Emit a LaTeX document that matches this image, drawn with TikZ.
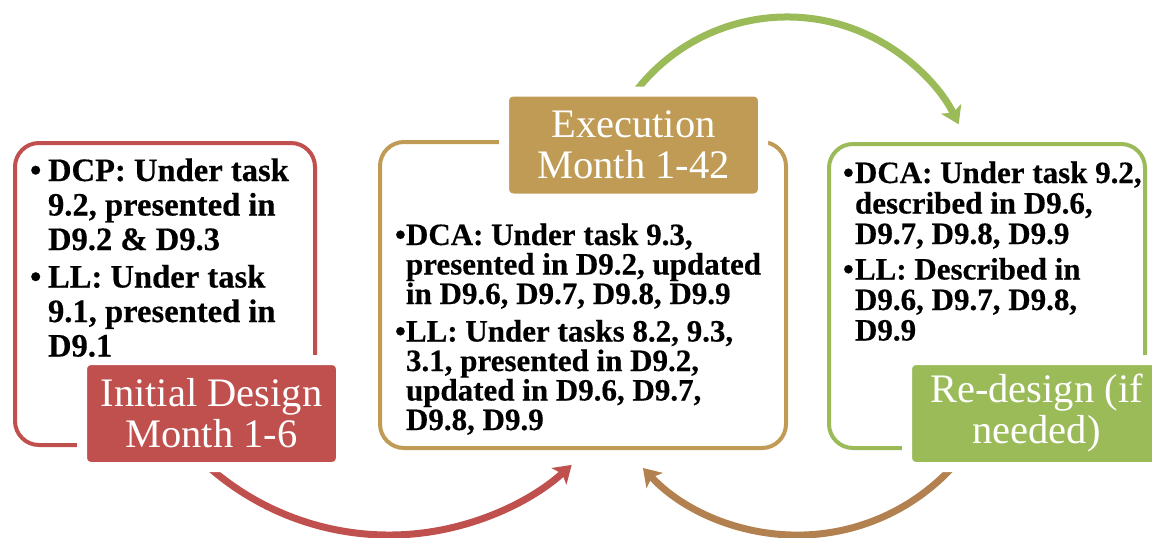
\documentclass[tikz,border=0pt]{standalone}
\usepackage{fontspec}
\setmainfont{Liberation Serif}[BoldFeatures={FakeBold=0.4}]
\usetikzlibrary{arrows.meta}

\definecolor{cRed}{HTML}{C0504D}
\definecolor{cGold}{HTML}{BF9B55}
\definecolor{cGreen}{HTML}{9BBB59}
\definecolor{cBrown}{HTML}{B3804F}

% one line opening a bullet item, and one continuation line; #1 = indent
\newcommand\itemline[2]{\hbox{\makebox[#1][l]{\textbullet}#2}}
\newcommand\moreline[2]{\hbox{\hskip#1\relax#2}}

\begin{document}
\begin{tikzpicture}[x=1pt,y=-1pt,
  framebox/.style={draw=#1, line width=4pt, rounded corners=24pt,
    inner sep=0pt, outer sep=0pt},
  tagbox/.style={fill=#1, draw=white, line width=10pt, rounded corners=9pt,
    text=white, inner sep=0pt, outer sep=0pt, minimum width=259pt,
    minimum height=107pt, align=center, font=\fontsize{40.5}{41}\selectfont},
  flow/.style={draw=#1, line width=7pt,
    -{Stealth[length=17pt, width=22pt, inset=4pt]}},
  textblock/.style={anchor=base west, inner sep=0pt, outer sep=0pt}
]
\useasboundingbox (0,0) rectangle (1152,538);
\clip (0,0) rectangle (1152,538);

% outline frames
\node[framebox=cRed,   minimum width=300pt, minimum height=302pt] (f1) at (165,294) {};
\node[framebox=cGold,  minimum width=406pt, minimum height=306pt] (f2) at (583,295) {};
\node[framebox=cGreen, minimum width=316pt, minimum height=304pt] (f3) at (987,296) {};

% circular arrows between the stages (start points lie behind the tags)
\coordinate (a1) at (179.9,437.5);
\coordinate (a2) at (621.6,112.5);
\coordinate (a3) at (980.0,429.6);
\draw[flow=cRed]   (a1) arc[start angle=140, end angle=48,  radius=273];
\draw[flow=cGreen] (a2) arc[start angle=-150, end angle=-26, radius=191];
\draw[flow=cBrown] (a3) arc[start angle=30,  end angle=137, radius=211];

% stage tags
\node[tagbox=cRed]   (l1) at (211.5,413.5) {Initial Design\\Month 1-6};
\node[tagbox=cGold]  (l2) at (633.5,145)   {Execution\\Month 1-42};
\node[tagbox=cGreen] (l3) at (1036.5,413.5) {Re-design (if\\needed)};

% stage descriptions
\node[textblock, font=\bfseries\fontsize{32.6}{34.5}\selectfont] (t1) at (30,181) {\vtop{%
  \itemline{18pt}{DCP: Under task}
  \moreline{18pt}{9.2, presented in}
  \moreline{18pt}{D9.2 \& D9.3}
  \vskip3pt
  \itemline{18pt}{LL: Under task}
  \moreline{18pt}{9.1, presented in}
  \moreline{18pt}{D9.1}}};

\node[textblock, font=\bfseries\fontsize{31}{29.5}\selectfont] (t2) at (395,245) {\vtop{%
  \itemline{11pt}{DCA: Under task 9.3,}
  \moreline{11pt}{presented in D9.2, updated}
  \moreline{11pt}{in D9.6, D9.7, D9.8, D9.9}
  \vskip8pt
  \itemline{11pt}{LL: Under tasks 8.2, 9.3,}
  \moreline{11pt}{3.1, presented in D9.2,}
  \moreline{11pt}{updated in D9.6, D9.7,}
  \moreline{11pt}{D9.8, D9.9}}};

\node[textblock, font=\bfseries\fontsize{31}{30.5}\selectfont] (t3) at (843,183) {\vtop{%
  \itemline{12pt}{DCA: Under task 9.2,}
  \moreline{12pt}{described in D9.6,}
  \moreline{12pt}{D9.7, D9.8, D9.9}
  \vskip5pt
  \itemline{12pt}{LL: Described in}
  \moreline{12pt}{D9.6, D9.7, D9.8,}
  \moreline{12pt}{D9.9}}};
\end{tikzpicture}
\end{document}
